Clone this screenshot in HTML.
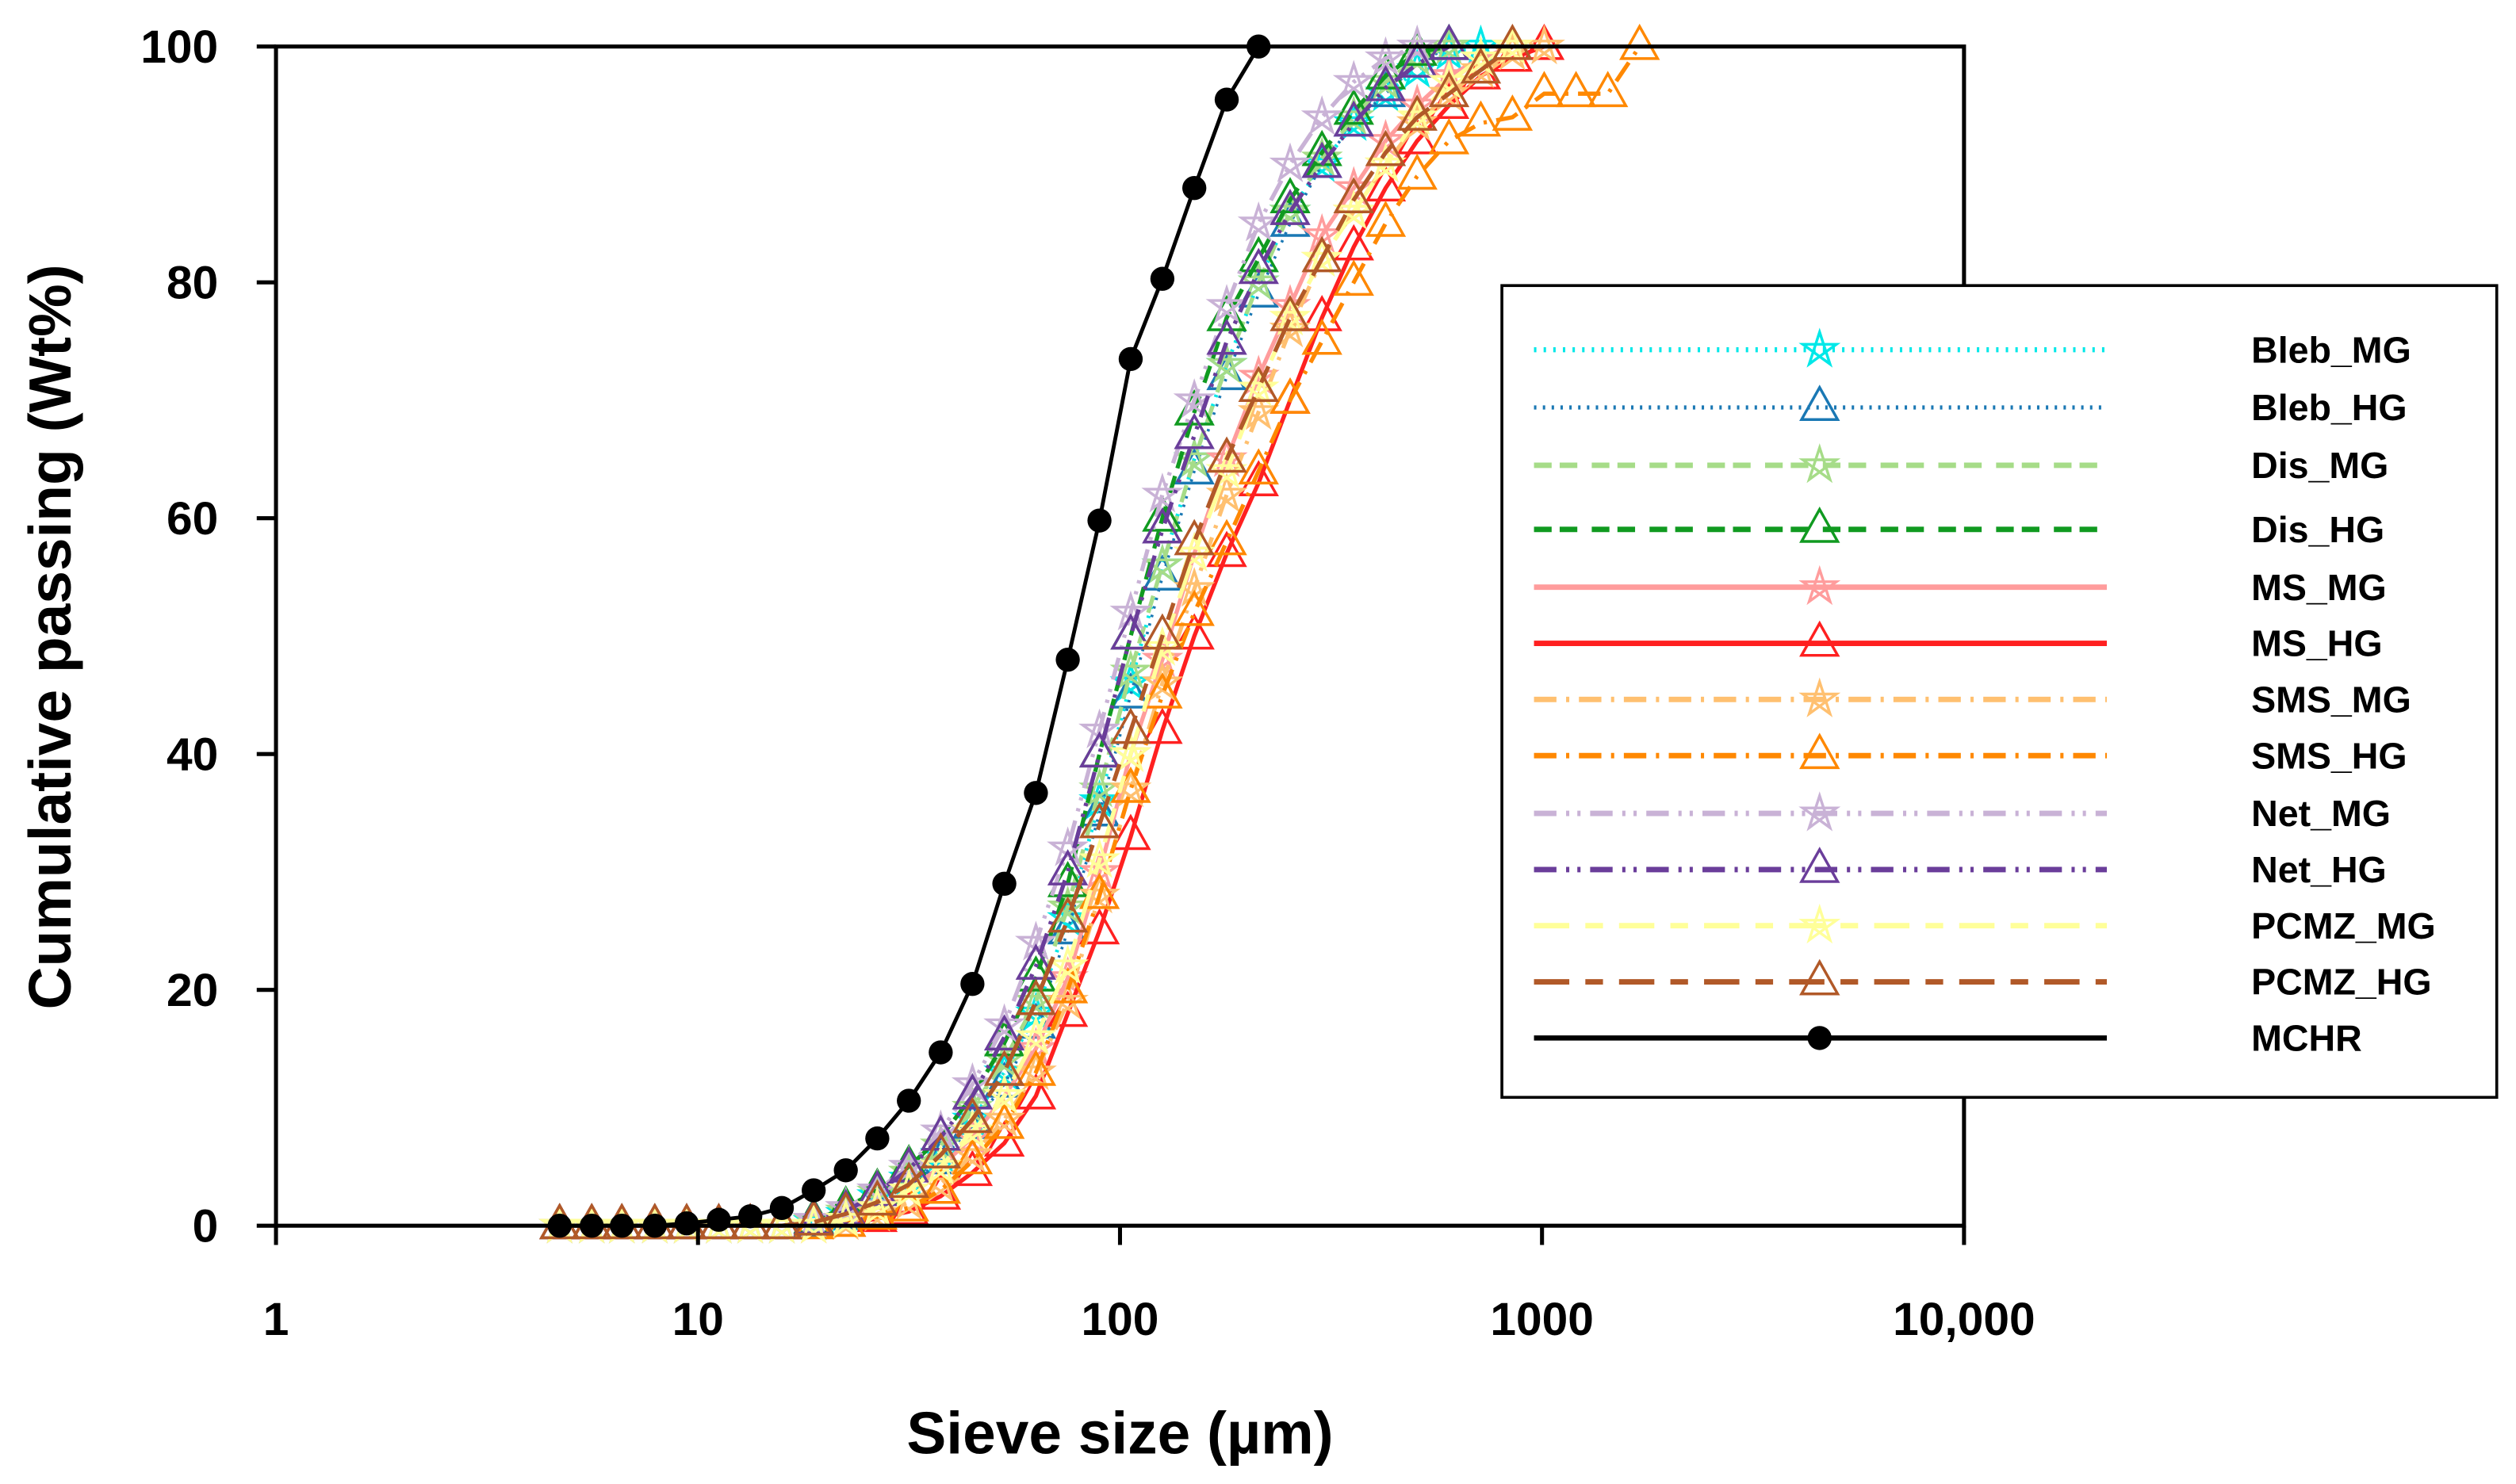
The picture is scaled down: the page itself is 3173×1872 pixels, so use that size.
<!DOCTYPE html>
<html><head><meta charset="utf-8"><style>
html,body{margin:0;padding:0;background:#fff;}
svg{display:block;font-family:"Liberation Sans",Arial,sans-serif;font-weight:bold;}
</style></head><body>
<svg id="chart" width="3173" height="1872" viewBox="0 0 1568 925" preserveAspectRatio="none" xmlns="http://www.w3.org/2000/svg">
<rect x="0" y="0" width="1568" height="925" fill="#fff"/>
<g id="plot"></g>
<g id="axes"></g>
<g id="legend"></g>
</svg>
<script>
const sizes=[4.7,5.6,6.6,7.9,9.4,11.2,13.3,15.8,18.8,22.4,26.6,31.6,37.6,44.7,53.2,63.2,75.2,89.4,106,126,150,179,213,253,301,358,426,506,602,716,851,1012,1204,1432,1703];
const seriesNames=["Bleb_MG","Bleb_HG","Dis_MG","Dis_HG","MS_MG","MS_HG","SMS_MG","SMS_HG","Net_MG","Net_HG","PCMZ_MG","PCMZ_HG","MCHR"];
const blebMG=[0,0,0,0,0,0,0,0,0.3,1,2.5,4,6,9,13,18,26,36,46,56,65,73,80,86,90,93.5,96,98,99.5,100];
const blebHG=[0,0,0,0,0,0,0,0,0.2,0.8,2,3.5,5.5,8.5,12,17,25,35,45,55,64,72,79,85,90,93.5,96,98.5,100];
const disMG=[0,0,0,0,0,0,0,0,0.4,1.2,2.8,4.5,6.8,10,14,19,27,37,47,56,65,73,80,86,90.5,94,97,99,100];
const disHG=[0,0,0,0,0,0,0,0,0.5,1.5,3,5,7.5,11,15.5,21,29,40,50,60,69,77,82,87,91,94.5,97.5,99.5,100];
const msMG=[0,0,0,0,0,0,0,0,0,0.5,1.5,3,5,7.5,11,15,21,30,40,48,57,65,72,78,84,88,92,95,97.5,99,100];
const msHG=[0,0,0,0,0,0,0,0,0,0.2,0.6,1.2,2.5,4.5,7,11,18,25,33,42,50,57,63,70,77,83,88,92,95,97.5,99,100];
const smsMG=[0,0,0,0,0,0,0,0,0,0.3,1,2,3.5,6,9,13,19,28,37,46,54,62,69,76,82,86,90,93.5,96,98,99.5,100];
const smsHG=[0,0,0,0,0,0,0,0,0,0.2,0.8,1.5,3,5.5,8.5,13,20,28,37,45,52,58,64,70,75,80,85,89,92,93.5,94,96,96,96,100];
const netMG=[0,0,0,0,0,0,0,0,0.5,1.5,3,5,8,12,17,24,32,42,52,62,70,78,85,90,94,97,99,100];
const netHG=[0,0,0,0,0,0,0,0,0.4,1.2,2.8,4.8,7.5,11,16,22,30,40,50,59,67,75,81,86,90,93.5,96.5,98.5,100];
const pcmzMG=[0,0,0,0,0,0,0,0,0,0.5,1.5,3,5,8,11,16,22,31,40,49,57,64,71,77,82,86,90,94,97,99,100];
const pcmzHG=[0,0,0,0,0,0,0,0,0.3,1,2,3.5,6,9,13,19,26,34,42,50,58,65,71,77,82,87,91,94,96,98,100];
const mchr=[0,0,0,0,0.2,0.5,0.8,1.5,3,4.7,7.4,10.6,14.7,20.5,29,36.7,48,59.8,73.5,80.3,88,95.5,100];
const yTicks=[0,20,40,60,80,100];
const xTicks=[1,10,100,1000,10000];
const xTickLabels=["1","10","100","1000","10,000"];

const styles=[
 {d:blebMG,c:"#00e8e8",dash:"1.5 4.5",m:"star",w:2.4},
 {d:blebHG,c:"#1a78b4",dash:"1.5 4",m:"tri",w:1.8},
 {d:disMG,c:"#a6dc88",dash:"11 5 11 9",m:"star",w:2.6},
 {d:disHG,c:"#109a20",dash:"11 5 11 9",m:"tri",w:2.6},
 {d:msMG,c:"#ff9c9c",dash:"",m:"star",w:2.6},
 {d:msHG,c:"#ff2020",dash:"",m:"tri",w:2.6},
 {d:smsMG,c:"#ffc070",dash:"14 6 2 6",m:"star",w:2.6},
 {d:smsHG,c:"#ff8800",dash:"14 6 2 6",m:"tri",w:2.6},
 {d:netMG,c:"#c9b2d6",dash:"14 6 2 5 2 6",m:"star",w:2.6},
 {d:netHG,c:"#6a3d9a",dash:"14 6 2 5 2 6",m:"tri",w:2.6},
 {d:pcmzMG,c:"#ffff99",dash:"22 10 11 10",m:"star",w:2.6},
 {d:pcmzHG,c:"#b15928",dash:"22 10 11 10",m:"tri",w:2.6},
 {d:mchr,c:"#000",dash:"",m:"circle",w:2.4}
];
const NS="http://www.w3.org/2000/svg";
const X0=172,X1=1224,Y0=764,Y1=29;
function xs(v){return X0+(Math.log10(v)-0)*(X1-X0)/4;}
function ys(v){return Y0-(v/100)*(Y0-Y1);}
function mk(tag,attrs,parent){const e=document.createElementNS(NS,tag);for(const k in attrs)e.setAttribute(k,attrs[k]);parent.appendChild(e);return e;}
function starPath(cx,cy,r){let p="";for(let i=0;i<5;i++){const a=-Math.PI/2+i*4*Math.PI/5;p+=(i?"L":"M")+(cx+r*Math.cos(a)).toFixed(2)+","+(cy+r*Math.sin(a)).toFixed(2);}return p+"Z";}
function triPath(cx,cy,r){return "M"+cx+","+(cy-r)+"L"+(cx+r*0.9)+","+(cy+r*0.6)+"L"+(cx-r*0.9)+","+(cy+r*0.6)+"Z";}
function marker(type,cx,cy,c,parent){
 let e;
 if(type==="star")e=mk("path",{d:starPath(cx,cy,11),fill:"none",stroke:c,"stroke-width":1.7},parent);
 else if(type==="tri")e=mk("path",{d:triPath(cx,cy,12.5),fill:"none",stroke:c,"stroke-width":1.7},parent);
 else e=mk("circle",{cx:cx,cy:cy,r:7.5,fill:c},parent);
 return e;
}
const plot=document.getElementById("plot");
styles.forEach((s,si)=>{
 const g=mk("g",{},plot);
 
 
 const pts=s.d.map((v,i)=>xs(sizes[i]).toFixed(2)+","+ys(v).toFixed(2)).join(" ");
 const ln=mk("polyline",{points:pts,fill:"none",stroke:s.c,"stroke-width":s.w,"stroke-dasharray":s.dash||"none"},g);
 
 
 s.d.forEach((v,i)=>{
  const m=marker(s.m,xs(sizes[i]),ys(v),s.c,g);
  
  
 });
});
const axes=document.getElementById("axes");
const frame=mk("rect",{x:X0,y:Y1,width:X1-X0,height:Y0-Y1,fill:"none",stroke:"#000","stroke-width":2.5},axes);


yTicks.forEach(t=>{
 const y=ys(t);
 mk("line",{x1:X0-12,x2:X0,y1:y,y2:y,stroke:"#000","stroke-width":2.5},axes);
 const tx=mk("text",{x:X0-36,y:y+10,"font-size":29,"text-anchor":"end"},axes);
 tx.textContent=t;
 
 
});
xTicks.forEach((t,i)=>{
 const x=xs(t);
 mk("line",{x1:x,x2:x,y1:Y0,y2:Y0+12,stroke:"#000","stroke-width":2.5},axes);
 const tx=mk("text",{x:x,y:832,"font-size":29,"text-anchor":"middle"},axes);
 tx.textContent=xTickLabels[i];
 
 
});
const xt=mk("text",{x:698,y:906,"font-size":37,"text-anchor":"middle"},axes);
xt.textContent="Sieve size (\u00b5m)";


const yt=mk("text",{x:0,y:0,"font-size":37,"text-anchor":"middle",transform:"translate(44,397) rotate(-90)"},axes);
yt.textContent="Cumulative passing (Wt%)";


const leg=document.getElementById("legend");


mk("rect",{x:936,y:178,width:620,height:506,fill:"#fff",stroke:"#000","stroke-width":1.8},leg);
const rowY=[218,254,290,330,366,401,436,471,507,542,577,612,647];
styles.forEach((s,si)=>{
 const g=mk("g",{},leg);
 
 
 const y=rowY[si];
 mk("line",{x1:956,x2:1313,y1:y,y2:y,stroke:s.c,"stroke-width":s.w+0.8,"stroke-dasharray":s.dash||"none"},g);
 marker(s.m,1134,y,s.c,g);
 const tx=mk("text",{x:1403,y:y+8,"font-size":23},g);
 tx.textContent=seriesNames[si];
});
</script>
</body></html>
